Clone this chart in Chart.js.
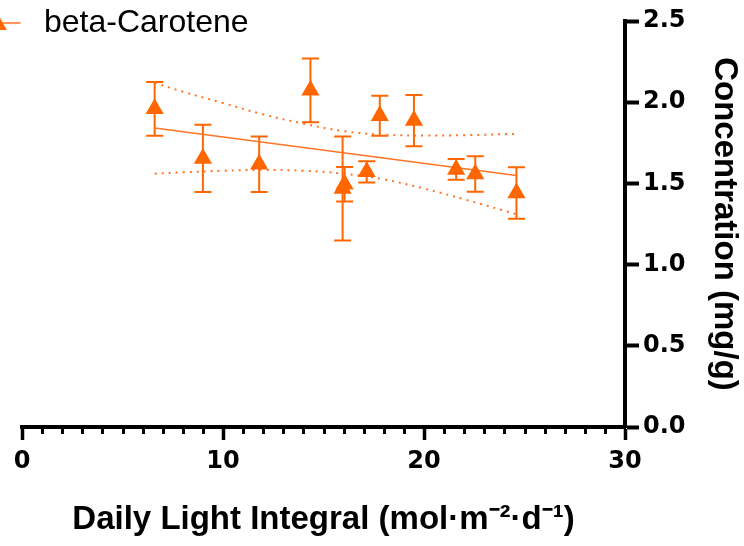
<!DOCTYPE html>
<html>
<head>
<meta charset="utf-8">
<script src="https://cdn.jsdelivr.net/npm/chart.js@4.4.1/dist/chart.umd.min.js"></script>
<style>
  body { margin: 0; background: #fff; }
  #grafica { display: block; }
</style>
</head>
<body>
<canvas id="grafica" width="744" height="546"></canvas>
<script>
//datos
const dli=[6.6, 9.0, 11.8, 14.35, 15.95, 16.05, 17.15, 17.8, 19.5, 21.6, 22.55, 24.6];
const concentracion=[1.959, 1.654, 1.618, 2.073, 1.469, 1.495, 1.571, 1.917, 1.887, 1.586, 1.558, 1.441];
const errores=[0.166, 0.207, 0.171, 0.196, 0.32, 0.106, 0.065, 0.123, 0.158, 0.064, 0.109, 0.159];
//linea de regresion
const ajusteX=[6.6, 24.6];
const ajusteY=[1.841, 1.549];
//bandas de confianza (punteadas)
const bandaX=[6.6, 8, 10, 12, 14, 16, 18, 20, 22, 24.6];
const bandaSup=[2.12, 2.065, 1.995, 1.925, 1.868, 1.822, 1.80, 1.795, 1.797, 1.805];
const bandaInf=[1.56, 1.568, 1.578, 1.583, 1.578, 1.56, 1.525, 1.468, 1.402, 1.31];
//ejes
const ticksY=[0, 0.5, 1.0, 1.5, 2.0, 2.5];
const ticksX=[0, 10, 20, 30];
const nombreSerie='beta-Carotene';

const naranja='#FF6600';
const naranjaLinea='#FF7526';

function pares(xs, ys){
  return xs.map((x,i)=>({x:x, y:ys[i]}));
}

//barras de error
const barrasError={
  id:'barrasError',
  beforeDatasetsDraw(chart){
    const ctx=chart.ctx;
    const x=chart.scales.x;
    const y=chart.scales.y;
    ctx.save();
    ctx.strokeStyle=naranja;
    ctx.lineWidth=2;
    for(let i=0;i<dli.length;i++){
      const px=x.getPixelForValue(dli[i]);
      const arriba=y.getPixelForValue(concentracion[i]+errores[i]);
      const abajo=y.getPixelForValue(concentracion[i]-errores[i]);
      ctx.beginPath();
      ctx.moveTo(px,arriba); ctx.lineTo(px,abajo);
      ctx.moveTo(px-8.5,arriba); ctx.lineTo(px+8.5,arriba);
      ctx.moveTo(px-8.5,abajo); ctx.lineTo(px+8.5,abajo);
      ctx.stroke();
    }
    ctx.restore();
  }
};

//ticks menores del eje x y leyenda
const extras={
  id:'extras',
  afterDraw(chart){
    const ctx=chart.ctx;
    const x=chart.scales.x;
    const base=chart.chartArea.bottom;
    ctx.save();
    ctx.strokeStyle='#000';
    ctx.lineWidth=3;
    for(let v=1;v<30;v++){
      if(v%10===0) continue;
      const px=Math.round(x.getPixelForValue(v))+0.5;
      ctx.beginPath();
      ctx.moveTo(px,base);
      ctx.lineTo(px,base+7);
      ctx.stroke();
    }
    //leyenda
    ctx.strokeStyle=naranjaLinea;
    ctx.lineWidth=1.5;
    ctx.beginPath();
    ctx.moveTo(-12,23); ctx.lineTo(20.5,23);
    ctx.stroke();
    ctx.fillStyle=naranja;
    ctx.beginPath();
    ctx.moveTo(-2,14); ctx.lineTo(6.7,30); ctx.lineTo(-10.7,30);
    ctx.closePath();
    ctx.fill();
    ctx.fillStyle='#000';
    ctx.font='32px "Liberation Sans", Arial, sans-serif';
    ctx.textBaseline='alphabetic';
    ctx.fillText(nombreSerie,44,32);
    ctx.restore();
  }
};

const lienzo=document.getElementById('grafica');

new Chart(lienzo, {
  type:'scatter',
  data:{
    datasets:[
      {
        label:nombreSerie,
        data:pares(dli,concentracion),
        pointStyle:'triangle',
        pointRadius:10.5,
        pointHoverRadius:10.5,
        backgroundColor:naranja,
        borderColor:naranja,
        borderWidth:0
      },
      {
        label:'ajuste',
        data:pares(ajusteX,ajusteY),
        showLine:true,
        pointRadius:0,
        borderColor:naranjaLinea,
        borderWidth:1.5
      },
      {
        label:'superior',
        data:pares(bandaX,bandaSup),
        showLine:true,
        pointRadius:0,
        borderColor:naranjaLinea,
        borderWidth:2,
        borderDash:[2,5],
        tension:0.4
      },
      {
        label:'inferior',
        data:pares(bandaX,bandaInf),
        showLine:true,
        pointRadius:0,
        borderColor:naranjaLinea,
        borderWidth:2,
        borderDash:[2,5],
        tension:0.4
      }
    ]
  },
  options:{
    responsive:false,
    animation:false,
    devicePixelRatio:1,
    layout:{ padding:{ left:22, top:21, right:0, bottom:0 } },
    plugins:{ legend:{ display:false }, tooltip:{ enabled:false } },
    scales:{
      x:{
        type:'linear',
        position:'bottom',
        min:0, max:30,
        afterBuildTicks:(eje)=>{ eje.ticks=ticksX.map(v=>({value:v})); },
        afterFit:(eje)=>{ eje.height=119; },
        ticks:{
          padding:7,
          color:'#000',
          font:{ family:'"DejaVu Sans", sans-serif', size:24, weight:'bold' }
        },
        grid:{
          display:true,
          drawOnChartArea:false,
          drawTicks:true,
          tickLength:13,
          tickWidth:3.5,
          tickColor:'#000'
        },
        border:{ display:true, color:'#000', width:4 },
        title:{
          display:true,
          text:'Daily Light Integral (mol·m⁻²·d⁻¹)',
          color:'#000',
          font:{ family:'"Liberation Sans", Arial, sans-serif', size:33, weight:'bold', lineHeight:1.2 },
          padding:{ top:0, bottom:6 }
        }
      },
      y:{
        type:'linear',
        position:'right',
        min:0, max:2.5,
        afterBuildTicks:(eje)=>{ eje.ticks=ticksY.map(v=>({value:v})); },
        afterFit:(eje)=>{ eje.width=119; },
        ticks:{
          padding:4,
          color:'#000',
          callback:(v)=>Number(v).toFixed(1),
          font:{ family:'"DejaVu Sans", sans-serif', size:24, weight:'bold' }
        },
        grid:{
          display:true,
          drawOnChartArea:false,
          drawTicks:true,
          tickLength:14,
          tickWidth:4,
          tickColor:'#000'
        },
        border:{ display:true, color:'#000', width:4 },
        title:{
          display:true,
          text:'Concentration (mg/g)',
          color:'#000',
          font:{ family:'"Liberation Sans", Arial, sans-serif', size:33, weight:'bold', lineHeight:1 },
          padding:{ top:3, bottom:0 }
        }
      }
    }
  },
  plugins:[barrasError, extras]
});
</script>
</body>
</html>
